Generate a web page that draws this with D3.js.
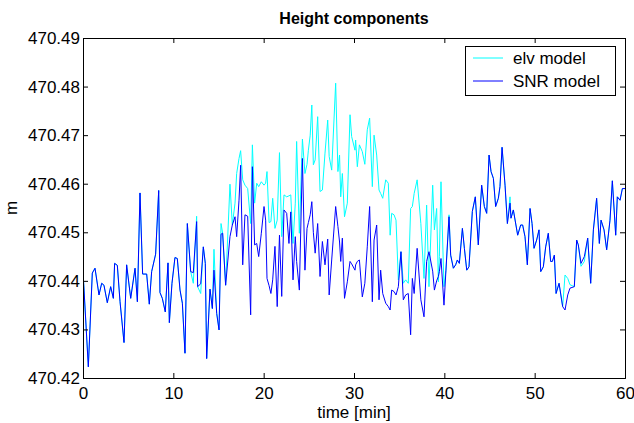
<!DOCTYPE html>
<html><head><meta charset="utf-8">
<script src="https://cdn.jsdelivr.net/npm/d3@7"></script>
<style>
body{margin:0;background:#fff}
svg{display:block}
text{font-family:"Liberation Sans",Arial,Helvetica,sans-serif;fill:#000}
</style>
</head><body>
<svg id="chart" width="634" height="423"></svg>
<script>
const chartTitle = "Height components";
const xLabel = "time [min]";
const yLabel = "m";
const seriesNames = ["elv model", "SNR model"];
const xTicks = [0, 10, 20, 30, 40, 50, 60];
const yTicks = [470.42, 470.43, 470.44, 470.45, 470.46, 470.47, 470.48, 470.49];

const time = [
  0,0.59,1.03,1.33,1.77,2.07,2.32,2.69,3.06,3.36,3.5,3.8,4.1,4.54,4.83,5.28,5.76,6.02,6.31,6.6,7.05,7.34,7.6,8.04,8.38,8.52,8.78,9.11,9.41,9.56,9.85,10.18,
  10.44,10.74,11.0,11.29,11.55,11.92,12.21,12.58,12.69,13.03,13.32,13.54,13.69,14.06,14.32,14.5,14.8,15.06,15.28,15.46,15.79,16.27,16.53,16.83,17.01,17.27,17.45,17.68,17.93,18.23,18.56,18.75,19.0,19.23,19.45,19.74,20.04,20.22,
  20.37,20.6,20.8,21.0,21.25,21.5,21.75,22.0,22.25,22.55,22.8,23.0,23.25,23.5,23.65,23.95,24.29,24.57,24.8,24.95,25.15,25.33,25.5,25.7,25.98,26.24,26.5,26.79,27.09,27.25,27.53,27.97,28.22,28.4,28.53,28.71,28.95,29.26,29.56,29.74,30.11,
  30.18,30.37,30.6,30.92,31.2,31.47,31.73,32.03,32.22,32.51,32.77,32.95,33.18,33.51,33.8,34.0,34.17,34.43,34.65,34.91,35.2,35.46,35.72,36.01,36.27,36.46,36.66,36.99,37.4,37.75,38.04,38.3,38.71,38.9,39.15,39.34,39.45,39.63,39.96,
  40.18,40.52,40.7,41.0,41.25,41.44,41.66,42.0,42.22,42.48,42.73,43.1,43.43,43.76,44.13,44.43,44.69,44.95,45.17,45.43,45.68,45.98,46.16,46.39,46.72,46.98,47.27,47.38,47.64,48.12,48.45,48.67,48.93,49.19,49.49,49.71,
  49.93,50.22,50.48,50.67,50.96,51.22,51.51,51.77,51.96,52.18,52.37,52.7,53.1,53.36,53.66,53.91,54.39,54.65,54.83,55.13,55.5,55.87,56.2,56.5,56.86,57.16,57.35,57.68,57.97,58.34,58.6,58.97,59.15,59.45,59.71,60
];

const snrModel = [
  470.4419,470.4223,470.4416,470.4426,470.4371,470.4395,470.4391,470.4355,470.4388,470.4364,470.4436,470.4432,470.4357,470.4273,470.4433,470.4364,470.4426,470.4357,470.4581,470.4414,470.4414,470.4352,470.4419,470.4455,470.4586,470.4376,470.4364,470.4336,470.4437,470.4314,470.4395,470.4448,
  470.4446,470.4381,470.4354,470.4251,470.4518,470.4419,470.4417,470.4522,470.4388,470.4394,470.4470,470.4436,470.4240,470.4383,470.4343,470.4422,470.4333,470.4299,470.4496,470.4498,470.4391,470.4491,470.4515,470.4532,470.4491,470.4566,470.4638,470.4433,470.4536,470.4533,470.4330,470.4635,470.4474,470.4477,470.4450,470.4498,470.4553,470.4525,
  470.4405,470.4390,470.4374,470.4402,470.4471,470.4347,470.4494,470.4368,470.4546,470.4539,470.4477,470.4542,470.4402,470.4491,470.4440,470.4381,470.4652,470.4422,470.4508,470.4520,470.4536,470.4563,470.4500,470.4457,470.4518,470.4409,470.4481,470.4433,470.4486,470.4371,470.4443,470.4553,470.4512,470.4480,470.4440,470.4488,470.4364,470.4398,470.4440,470.4435,470.4422,
  470.4433,470.4440,470.4443,470.4367,470.4395,470.4470,470.4553,470.4357,470.4484,470.4515,470.4361,470.4422,470.4374,470.4354,470.4347,470.4340,470.4381,470.4378,470.4371,470.4388,470.4460,470.4361,470.4371,470.4374,470.4289,470.4405,470.4374,470.4467,470.4361,470.4326,470.4440,470.4460,470.4420,470.4381,470.4400,470.4409,470.4419,470.4446,470.4350,
  470.4422,470.4532,470.4453,470.4426,470.4433,470.4443,470.4436,470.4508,470.4467,470.4422,470.4429,470.4543,470.4573,470.4474,470.4597,470.4553,470.4539,470.4659,470.4625,470.4611,470.4553,470.4570,470.4594,470.4675,470.4597,470.4518,470.4560,470.4529,470.4546,470.4494,470.4515,470.4515,470.4491,470.4433,470.4549,470.4518,
  470.4467,470.4484,470.4505,470.4419,470.4429,470.4470,470.4498,470.4440,470.4440,470.4453,470.4374,470.4395,470.4347,470.4340,470.4371,470.4385,470.4388,470.4484,470.4474,470.4436,470.4450,470.4488,470.4395,470.4505,470.4570,470.4477,470.4525,470.4505,470.4464,470.4525,470.4606,470.4494,470.4573,470.4566,470.4590,470.4590
];

const elvModel = [
  470.4419,470.4223,470.4416,470.4426,470.4371,470.4395,470.4391,470.4355,470.4388,470.4364,470.4436,470.4432,470.4357,470.4273,470.4433,470.4364,470.4426,470.4357,470.4581,470.4414,470.4414,470.4352,470.4419,470.4455,470.4586,470.4376,470.4364,470.4336,470.4437,470.4314,470.4395,470.4448,
  470.4446,470.4381,470.4354,470.4251,470.4518,470.4419,470.4395,470.4533,470.4388,470.4374,470.4470,470.4436,470.4240,470.4383,470.4343,470.4465,470.4333,470.4299,470.4518,470.4498,470.4391,470.4599,470.4515,470.4560,470.4621,470.4652,470.4668,470.4608,470.4597,470.4590,470.4518,470.4680,470.4560,470.4601,470.4594,470.4604,470.4597,470.4601,
  470.4625,470.4520,470.4522,470.4570,470.4508,470.4525,470.4664,470.4491,470.4577,470.4573,470.4575,470.4577,470.4477,470.4560,470.4687,470.4498,470.4692,470.4621,470.4640,470.4669,470.4700,470.4762,470.4639,470.4649,470.4738,470.4584,470.4587,470.4663,470.4731,470.4656,470.4628,470.4807,470.4625,470.4659,470.4573,470.4621,470.4532,470.4560,470.4742,470.4697,470.4669,
  470.4690,470.4635,470.4680,470.4666,470.4640,470.4711,470.4735,470.4594,470.4700,470.4659,470.4587,470.4580,470.4570,470.4608,470.4601,470.4494,470.4539,470.4536,470.4525,470.4402,470.4460,470.4395,470.4402,470.4395,470.4549,470.4553,470.4580,470.4608,470.4518,470.4405,470.4556,470.4388,470.4597,470.4505,470.4549,470.4398,470.4450,470.4604,470.4388,
  470.4422,470.4536,470.4453,470.4426,470.4433,470.4443,470.4436,470.4508,470.4467,470.4422,470.4429,470.4543,470.4573,470.4474,470.4597,470.4553,470.4539,470.4659,470.4625,470.4611,470.4553,470.4570,470.4594,470.4675,470.4597,470.4518,470.4573,470.4529,470.4546,470.4494,470.4515,470.4515,470.4491,470.4433,470.4549,470.4518,
  470.4467,470.4484,470.4505,470.4419,470.4429,470.4470,470.4498,470.4440,470.4440,470.4453,470.4374,470.4395,470.4347,470.4412,470.4405,470.4392,470.4388,470.4484,470.4474,470.4430,470.4440,470.4488,470.4395,470.4505,470.4570,470.4477,470.4525,470.4505,470.4464,470.4525,470.4606,470.4494,470.4573,470.4566,470.4590,470.4590
];

const seriesColors = ["#00ffff", "#0000ff"];

const svg = d3.select("#chart");
const W = 634, H = 423;
const m = {left: 83, right: 9, top: 38, bottom: 45};
const x = d3.scaleLinear().domain([0, 60]).range([m.left, W - m.right]);
const y = d3.scaleLinear().domain([470.42, 470.49]).range([H - m.bottom, m.top]);

svg.append("rect").attr("width", W).attr("height", H).attr("fill", "#fff");

svg.append("clipPath").attr("id", "clip").append("rect")
  .attr("x", x(0)).attr("y", y(470.49)).attr("width", x(60) - x(0)).attr("height", y(470.42) - y(470.49));

const line = d3.line().x((d, i) => x(time[i])).y(d => y(d));
const plot = svg.append("g").attr("clip-path", "url(#clip)");
[elvModel, snrModel].forEach((s, k) => {
  plot.append("path").datum(s).attr("d", line)
    .attr("fill", "none").attr("stroke", seriesColors[k]).attr("stroke-width", 1)
    .attr("stroke-linejoin", "miter");
});

const fs = 17;
const gx = svg.append("g").attr("transform", `translate(0,${y(470.42)})`)
  .call(d3.axisBottom(x).tickValues(xTicks).tickSize(-5).tickPadding(9).tickFormat(d3.format("d")));
const gxTop = svg.append("g").attr("transform", `translate(0,${y(470.49)})`)
  .call(d3.axisTop(x).tickValues(xTicks).tickSize(-5).tickFormat(""));
const gy = svg.append("g").attr("transform", `translate(${x(0)},0)`)
  .call(d3.axisLeft(y).tickValues(yTicks).tickSize(-5).tickPadding(3).tickFormat(d3.format(".2f")));
const gyR = svg.append("g").attr("transform", `translate(${x(60)},0)`)
  .call(d3.axisRight(y).tickValues(yTicks).tickSize(-5).tickFormat(""));
[gx, gxTop, gy, gyR].forEach(g => {
  g.select(".domain").attr("stroke", "#000").attr("stroke-width", 1);
  g.selectAll(".tick line").attr("stroke", "#000");
  g.selectAll("text").attr("font-size", fs).attr("font-family", "Liberation Sans, Arial, sans-serif").attr("fill", "#000");
});

svg.append("text").attr("x", (x(0) + x(60)) / 2).attr("y", 24)
  .attr("text-anchor", "middle").attr("font-size", 16).attr("font-weight", "bold").text(chartTitle);
svg.append("text").attr("x", (x(0) + x(60)) / 2).attr("y", 418)
  .attr("text-anchor", "middle").attr("font-size", fs).text(xLabel);
svg.append("text").attr("transform", `translate(17,${(y(470.42) + y(470.49)) / 2}) rotate(-90)`)
  .attr("text-anchor", "middle").attr("font-size", fs).text(yLabel);

const lg = svg.append("g");
lg.append("rect").attr("x", 465.5).attr("y", 46.5).attr("width", 150).attr("height", 49)
  .attr("fill", "#fff").attr("stroke", "#000").attr("stroke-width", 1);
seriesNames.forEach((n, i) => {
  const yy = 58 + i * 23;
  lg.append("line").attr("x1", 473).attr("x2", 503).attr("y1", yy).attr("y2", yy)
    .attr("stroke", seriesColors[i]).attr("stroke-width", 1);
  lg.append("text").attr("x", 513).attr("y", yy + 6).attr("font-size", fs).text(n);
});
</script>
</body></html>
